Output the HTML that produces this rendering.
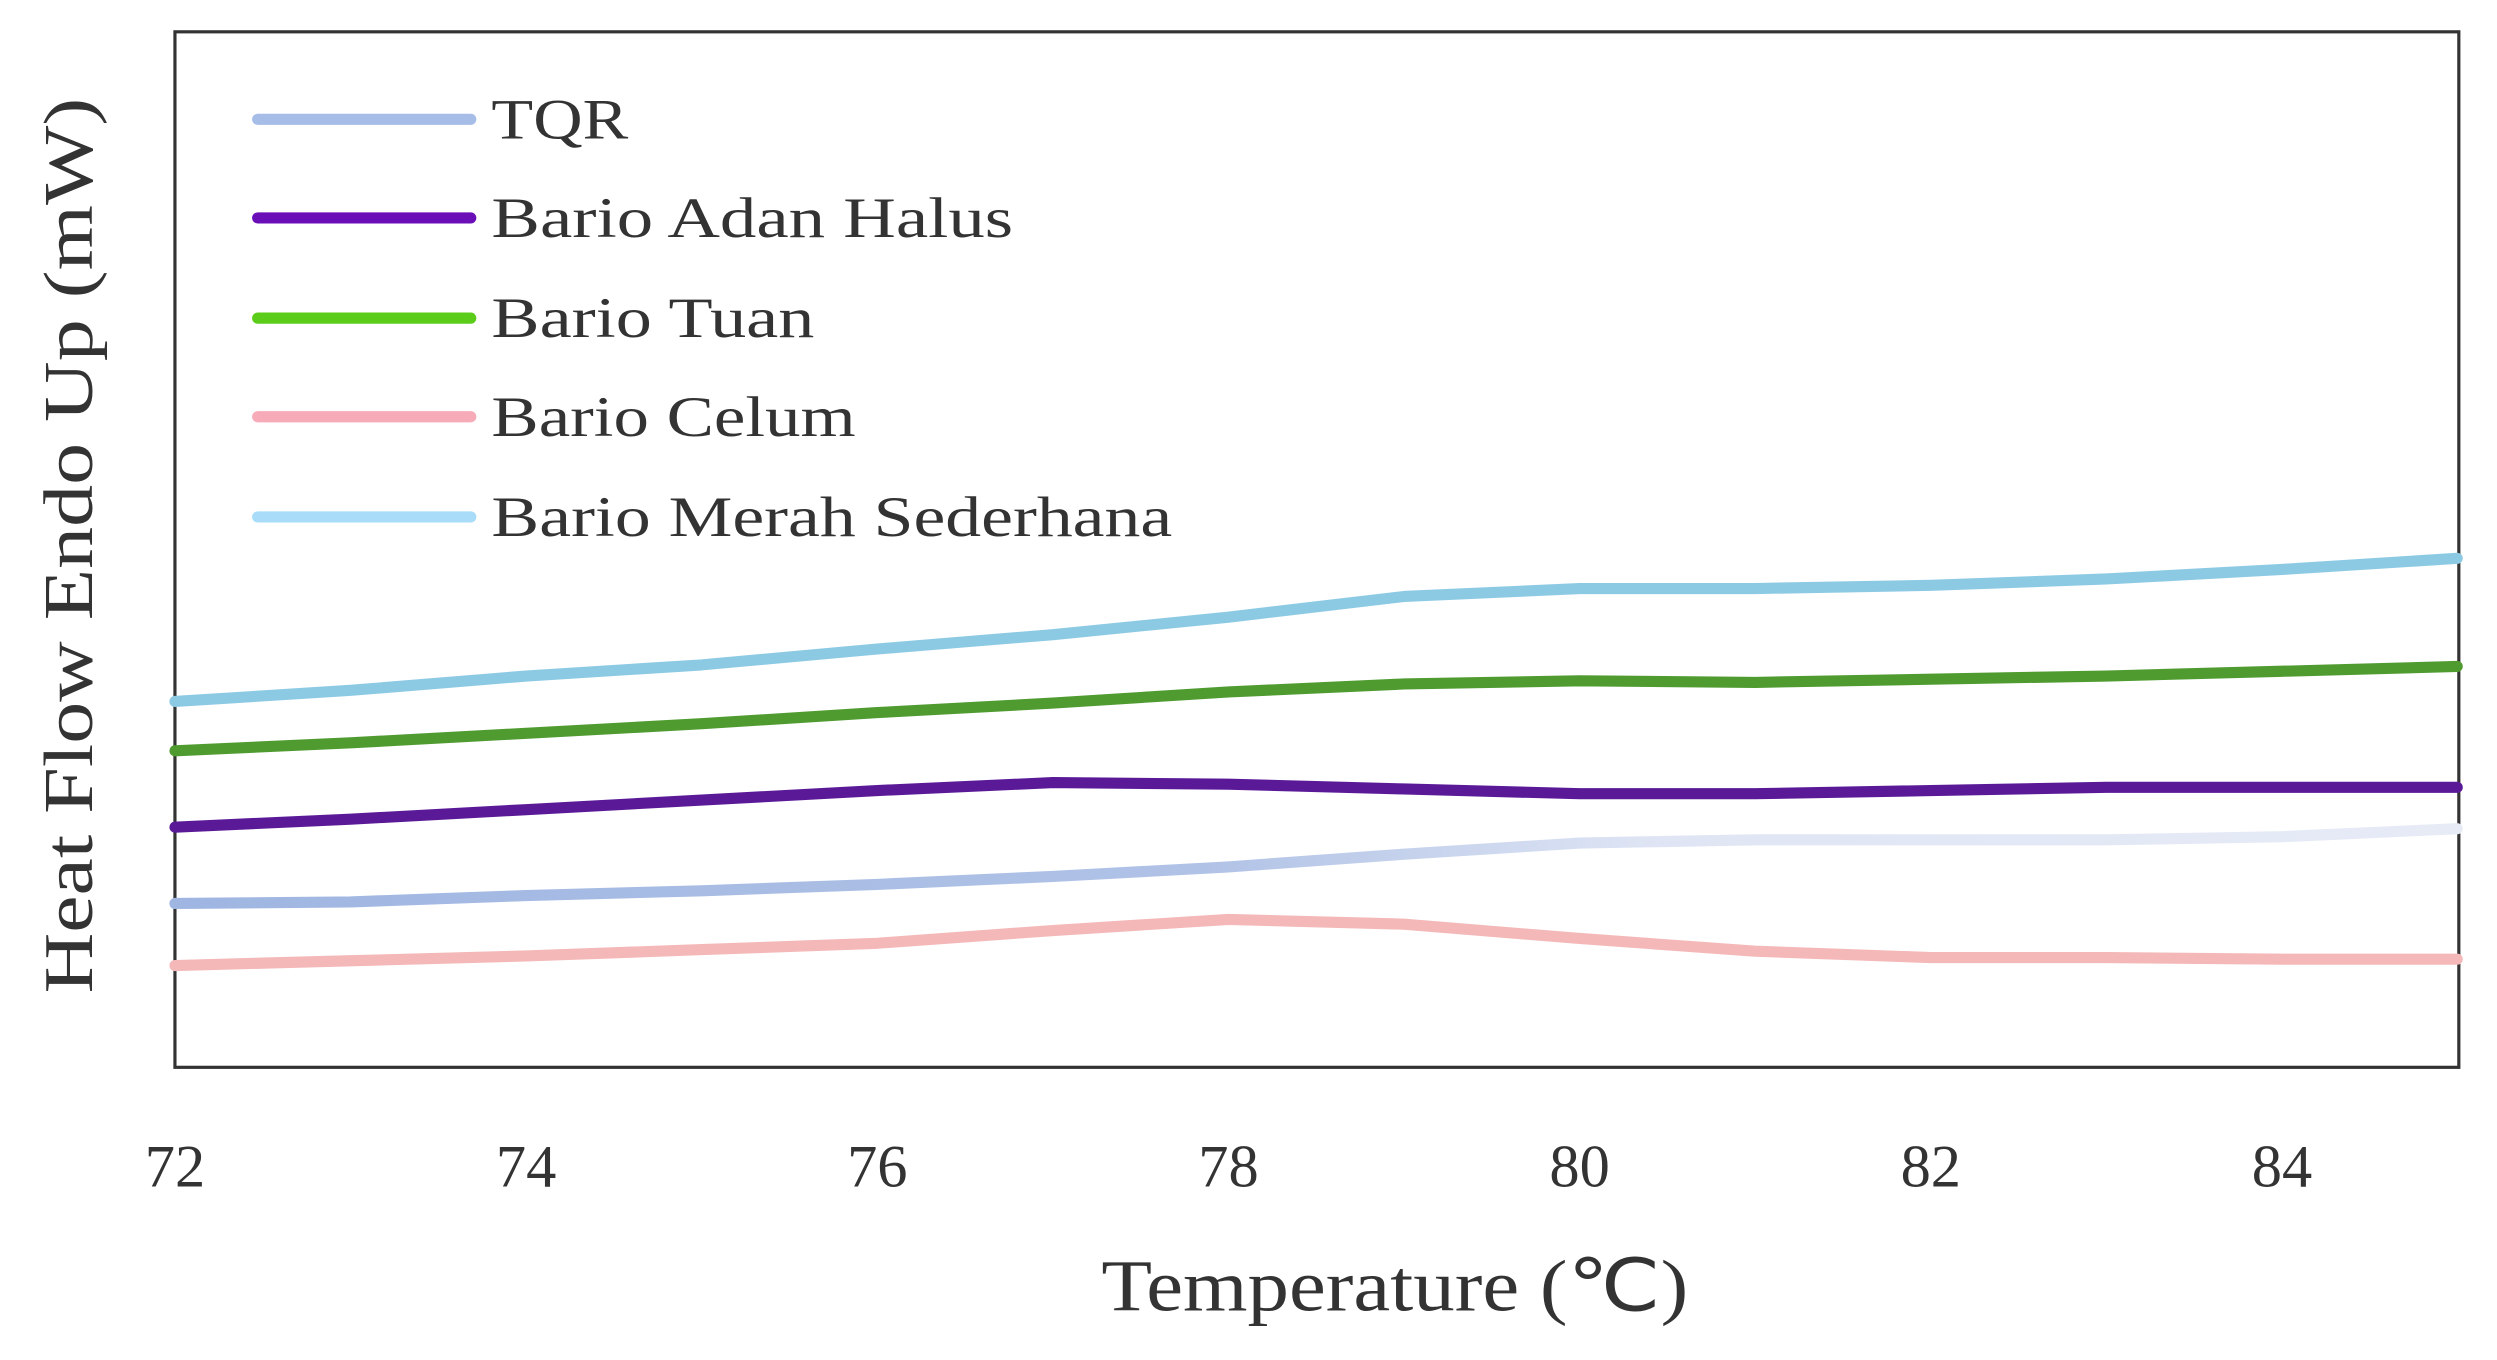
<!DOCTYPE html>
<html><head><meta charset="utf-8"><style>html,body{margin:0;padding:0;background:#fff}svg{display:block}</style></head>
<body>
<svg width="2497" height="1360" viewBox="0 0 1570 855" preserveAspectRatio="none" xmlns="http://www.w3.org/2000/svg">
<defs>
<linearGradient id="tq" x1="110" y1="0" x2="1546" y2="0" gradientUnits="userSpaceOnUse">
<stop offset="0" stop-color="#9fb6e2"/><stop offset="0.45" stop-color="#b0c2e6"/><stop offset="0.65" stop-color="#dfe5f4"/><stop offset="1" stop-color="#e6ebf6"/></linearGradient>
</defs>
<rect x="110" y="20" width="1436" height="651" fill="#fff" stroke="#333" stroke-width="2"/>
<g fill="none" stroke-width="7" stroke-linejoin="round" stroke-linecap="round">
<polyline stroke="#8ccae4" points="110,441 220.4,434 330.8,425 441.2,418 551.6,408 662,399 772.4,388 882.8,375 993.2,370 1103.6,370 1214,368 1324.4,364 1434.8,358 1545,351"/>
<polyline stroke="#4f9b30" points="110,472 220.4,467 330.8,461 441.2,455 551.6,448 662,442 772.4,435 882.8,430 993.2,428 1103.6,429 1214,427 1324.4,425 1434.8,422 1545,419"/>
<polyline stroke="#5a1a98" points="110,520 220.4,515 330.8,509 441.2,503 551.6,497 662,492 772.4,493 882.8,496 993.2,499 1103.6,499 1214,497 1324.4,495 1434.8,495 1545,495"/>
<polyline stroke="url(#tq)" points="110,568 220.4,567 330.8,563 441.2,560 551.6,556 662,551 772.4,545 882.8,537 993.2,530 1103.6,528 1214,528 1324.4,528 1434.8,526 1545,521"/>
<polyline stroke="#f4b8b8" points="110,607 220.4,604 330.8,601 441.2,597 551.6,593 662,585 772.4,578 882.8,581 993.2,590 1103.6,598 1214,602 1324.4,602 1434.8,603 1545,603"/>
<line x1="162" y1="75" x2="296" y2="75" stroke="#a6bde8"/>
<line x1="162" y1="137" x2="296" y2="137" stroke="#6a0fb8"/>
<line x1="162" y1="200" x2="296" y2="200" stroke="#5ccc1a"/>
<line x1="162" y1="262" x2="296" y2="262" stroke="#f7aab8"/>
<line x1="162" y1="325" x2="296" y2="325" stroke="#a8dcf8"/>
</g>
<g font-family="Liberation Serif, serif" fill="#333" font-size="36">
<text x="309" y="87" textLength="86" lengthAdjust="spacingAndGlyphs">TQR</text>
<text x="309" y="149" textLength="328" lengthAdjust="spacingAndGlyphs">Bario Adan Halus</text>
<text x="309" y="212" textLength="203" lengthAdjust="spacingAndGlyphs">Bario Tuan</text>
<text x="309" y="274" textLength="229" lengthAdjust="spacingAndGlyphs">Bario Celum</text>
<text x="309" y="337" textLength="428" lengthAdjust="spacingAndGlyphs">Bario Merah Sederhana</text>
</g>
<g font-family="Liberation Serif, serif" fill="#333" font-size="38" text-anchor="middle">
<text x="110" y="746">72</text><text x="330.8" y="746">74</text><text x="551.6" y="746">76</text><text x="772.4" y="746">78</text><text x="993.2" y="746">80</text><text x="1214" y="746">82</text><text x="1434.8" y="746">84</text>
<text x="877" y="824" font-size="46" textLength="369" lengthAdjust="spacingAndGlyphs">Temperature (℃)</text>
<text transform="translate(58,343) rotate(-90)" font-size="44" textLength="563" lengthAdjust="spacingAndGlyphs">Heat Flow Endo Up (mW)</text>
</g>
</svg>
</body></html>
